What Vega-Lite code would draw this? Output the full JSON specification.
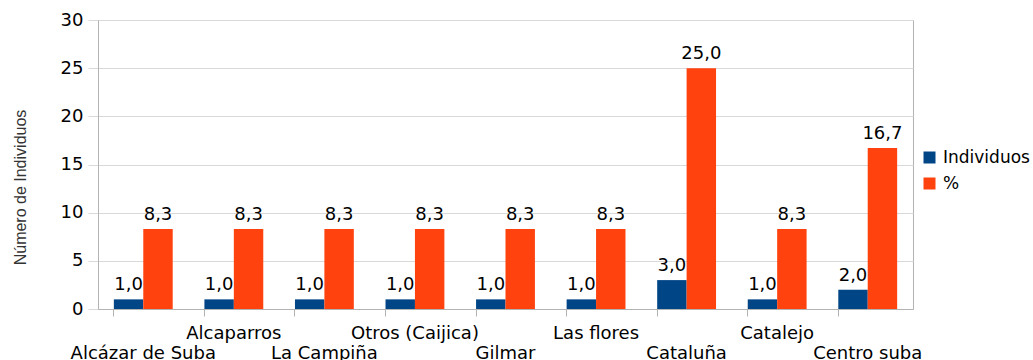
{
  "$schema": "https://vega.github.io/schema/vega-lite/v6.json",
  "width": 815,
  "height": 289,
  "autosize": {"type": "none"},
  "padding": {"left": 98, "top": 20, "right": 120, "bottom": 51},
  "background": "white",
  "data": {
    "values": [
      {"zona": "Alcázar de Suba", "serie": "Individuos", "valor": 1.0},
      {"zona": "Alcázar de Suba", "serie": "%", "valor": 8.3},
      {"zona": "Alcaparros", "serie": "Individuos", "valor": 1.0},
      {"zona": "Alcaparros", "serie": "%", "valor": 8.3},
      {"zona": "La Campiña", "serie": "Individuos", "valor": 1.0},
      {"zona": "La Campiña", "serie": "%", "valor": 8.3},
      {"zona": "Otros (Caijica)", "serie": "Individuos", "valor": 1.0},
      {"zona": "Otros (Caijica)", "serie": "%", "valor": 8.3},
      {"zona": "Gilmar", "serie": "Individuos", "valor": 1.0},
      {"zona": "Gilmar", "serie": "%", "valor": 8.3},
      {"zona": "Las flores", "serie": "Individuos", "valor": 1.0},
      {"zona": "Las flores", "serie": "%", "valor": 8.3},
      {"zona": "Cataluña", "serie": "Individuos", "valor": 3.0},
      {"zona": "Cataluña", "serie": "%", "valor": 25.0},
      {"zona": "Catalejo", "serie": "Individuos", "valor": 1.0},
      {"zona": "Catalejo", "serie": "%", "valor": 8.3},
      {"zona": "Centro suba", "serie": "Individuos", "valor": 2.0},
      {"zona": "Centro suba", "serie": "%", "valor": 16.7}
    ]
  },
  "encoding": {
    "x": {
      "field": "zona",
      "type": "nominal",
      "sort": null,
      "title": null,
      "scale": {"paddingInner": 0.35, "paddingOuter": 0.175},
      "axis": {
        "bandPosition": 0,
        "labelAngle": 0,
        "labelBaseline": "top",
        "labelLineHeight": 20,
        "labelPadding": 8,
        "tickSize": 7,
        "labelExpr": "indexof(['Alcaparros', 'Otros (Caijica)', 'Las flores', 'Catalejo'], datum.value) >= 0 ? datum.value : ['', datum.value]"
      }
    },
    "xOffset": {"field": "serie", "type": "nominal", "sort": ["Individuos", "%"]},
    "y": {
      "field": "valor",
      "type": "quantitative",
      "title": "Número de Individuos",
      "scale": {"domain": [0, 30], "nice": false},
      "axis": {
        "values": [0, 5, 10, 15, 20, 25, 30],
        "tickSize": 10,
        "labelPadding": 5,
        "titleX": -70,
        "titleY": 167,
        "titleFont": "Liberation Sans",
        "titleFontSize": 16,
        "titleFontWeight": "normal",
        "titleColor": "#333333"
      }
    }
  },
  "layer": [
    {
      "mark": {"type": "bar"},
      "encoding": {
        "color": {
          "field": "serie",
          "type": "nominal",
          "sort": ["Individuos", "%"],
          "scale": {"domain": ["Individuos", "%"], "range": ["#004586", "#ff420e"]},
          "legend": {
            "title": null,
            "orient": "none",
            "legendX": 823,
            "legendY": 129,
            "symbolType": "square",
            "symbolSize": 144,
            "symbolStrokeWidth": 0,
            "labelFont": "DejaVu Sans",
            "labelFontSize": 17,
            "labelColor": "#000000",
            "labelOffset": 5,
            "rowPadding": 8,
            "padding": 0
          }
        }
      }
    },
    {
      "mark": {"type": "text", "baseline": "alphabetic", "dy": -9, "font": "DejaVu Sans", "fontSize": 18, "color": "#000000"},
      "encoding": {
        "text": {"field": "valor", "type": "quantitative", "format": ".1f"}
      }
    }
  ],
  "config": {
    "locale": {
      "number": {"decimal": ",", "thousands": ".", "grouping": [3], "currency": ["", " €"]}
    },
    "view": {"stroke": "#b3b3b3", "strokeWidth": 1},
    "axis": {
      "labelFont": "DejaVu Sans",
      "labelFontSize": 18,
      "labelColor": "#000000",
      "domainColor": "#b3b3b3",
      "tickColor": "#b3b3b3",
      "gridColor": "#d9d9d9",
      "grid": false
    },
    "axisY": {"grid": true, "domain": true, "tickColor": "#d9d9d9"}
  }
}
